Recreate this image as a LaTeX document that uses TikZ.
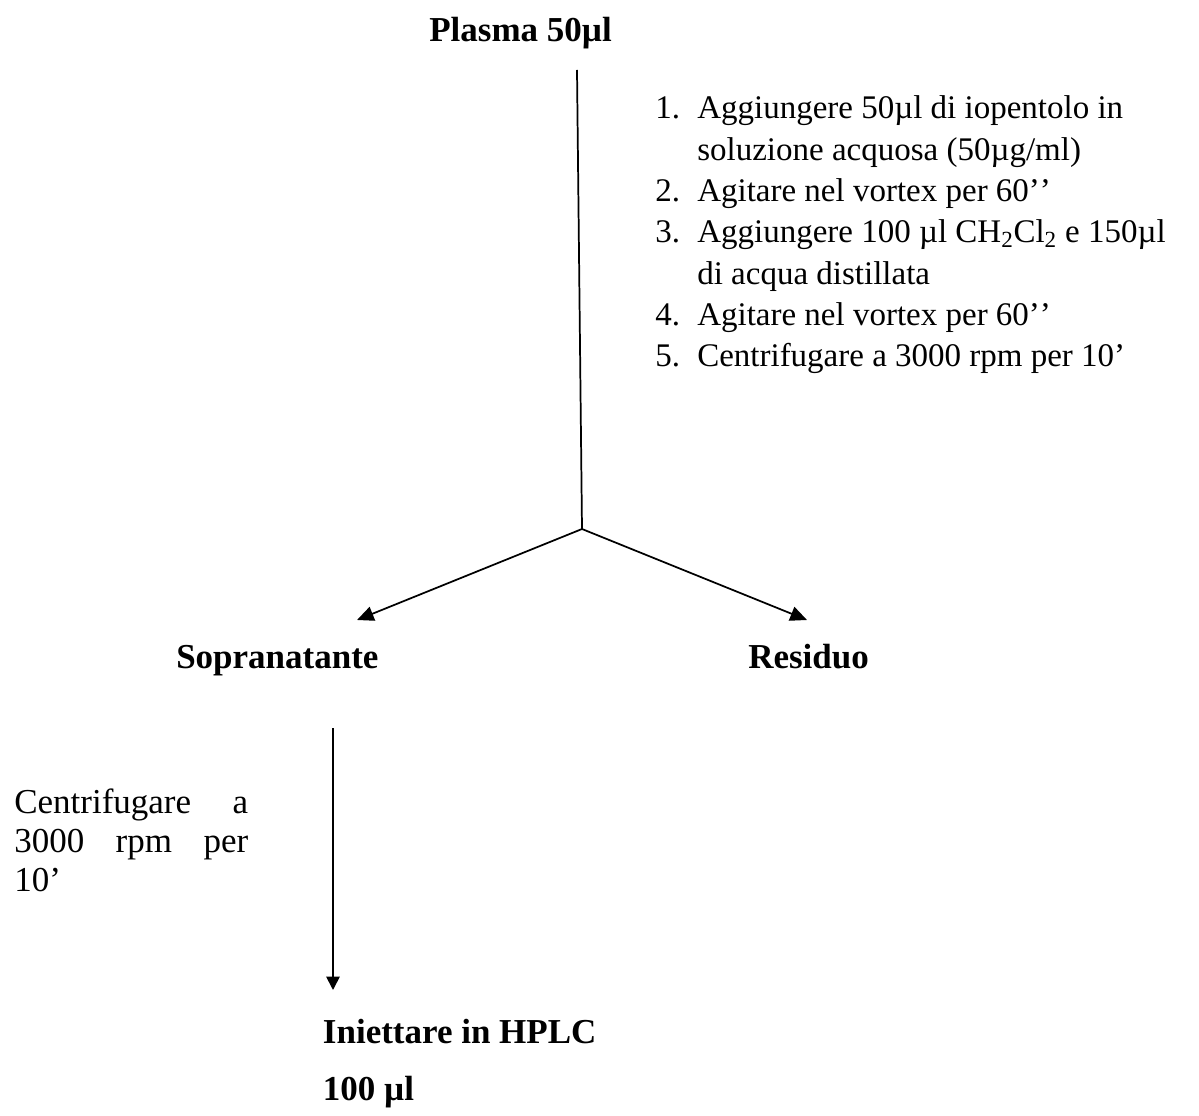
\documentclass[tikz,border=0pt]{standalone}
\usepackage{fontspec}
\setmainfont{Liberation Serif}
\usetikzlibrary{arrows.meta}
\begin{document}
\begin{tikzpicture}[x=0.75pt,y=-0.75pt,
  boldlbl/.style={inner sep=0pt,anchor=base west,font=\fontsize{26.25}{31}\selectfont\bfseries},
  plainlbl/.style={inner sep=0pt,anchor=base west,font=\fontsize{24.75}{31}\selectfont},
  sidelbl/.style={inner sep=0pt,anchor=base west,font=\fontsize{26.25}{29.25}\selectfont},
  conn/.style={line width=1.3pt},
  bigarrow/.style={line width=1.3pt,-{Triangle[length=12.5pt,width=11pt]}},
  smallarrow/.style={line width=1.3pt,-{Triangle[length=10pt,width=10pt]}}]
\useasboundingbox (0,0) rectangle (1199,1116);
\node[boldlbl] (plasma) at (429,42) {Plasma 50µl};
\coordinate (top) at (577,70);
\coordinate (split) at (582,529);
\coordinate (lefttip) at (357,620);
\coordinate (righttip) at (807,620);
\node[plainlbl] (steps) at (655,119) {\begin{tabular}[t]{@{}l@{}l@{}}
\makebox[31.5pt][l]{1.}&Aggiungere 50µl di iopentolo in\\
&soluzione acquosa (50µg/ml)\\
\makebox[31.5pt][l]{2.}&Agitare nel vortex per 60’\kern0pt’\\
\makebox[31.5pt][l]{3.}&Aggiungere 100 µl CH\textsubscript{2}Cl\textsubscript{2} e 150µl\\
&di acqua distillata\\
\makebox[31.5pt][l]{4.}&Agitare nel vortex per 60’\kern0pt’\\
\makebox[31.5pt][l]{5.}&Centrifugare a 3000 rpm per 10’
\end{tabular}};
\node[boldlbl] (sopra) at (176,668) {Sopranatante};
\node[boldlbl] (resid) at (748,668) {Residuo};
\coordinate (vtop) at (333,728);
\coordinate (vtip) at (333,990);
\node[sidelbl] (centri) at (14,813) {\begin{tabular}[t]{@{}l@{}}
\makebox[175.5pt][s]{Centrifugare\hfill a}\\
\makebox[175.5pt][s]{3000\hfill rpm\hfill per}\\
10’
\end{tabular}};
\node[boldlbl] (inj) at (322.7,1043) {Iniettare in HPLC};
\node[boldlbl] (vol) at (322.7,1100) {100 µl};
\draw[conn] (top) -- (split);
\draw[bigarrow] (split) -- (lefttip);
\draw[bigarrow] (split) -- (righttip);
\draw[smallarrow] (vtop) -- (vtip);
\end{tikzpicture}
\end{document}
